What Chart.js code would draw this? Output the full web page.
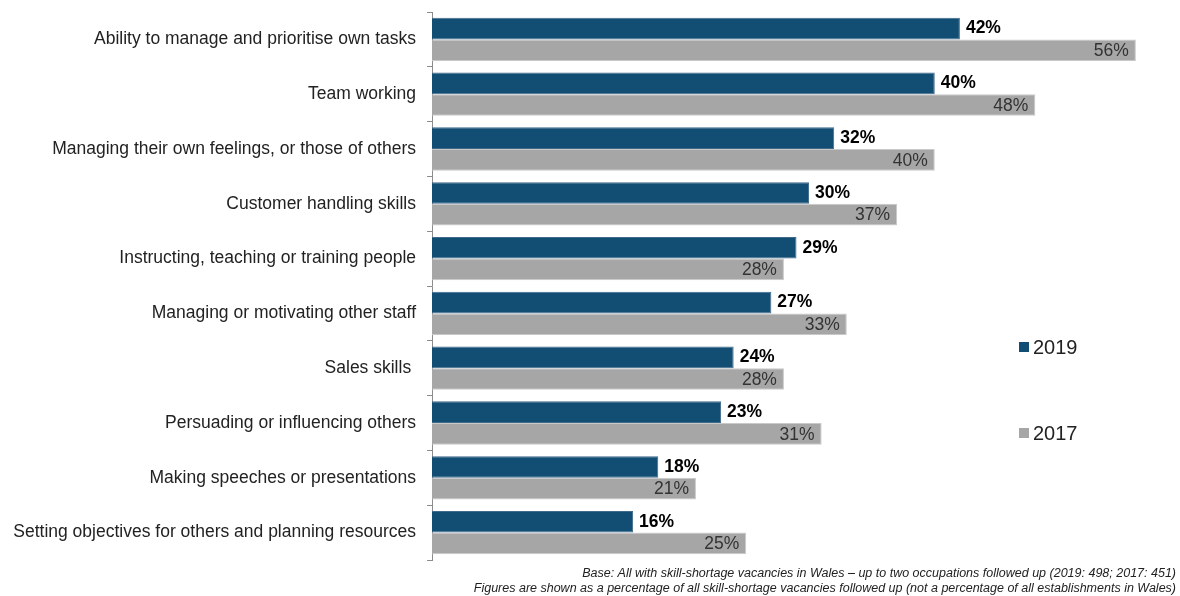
<!DOCTYPE html>
<html>
<head>
<meta charset="utf-8">
<script src="https://cdn.jsdelivr.net/npm/chart.js@4/dist/chart.umd.min.js"></script>
<style>
  html, body { margin: 0; padding: 0; background: #fff; }
  #wrap { width: 1180px; height: 596px; }
</style>
</head>
<body>
<div id="wrap"><canvas id="c" width="1180" height="596"></canvas></div>
<script>
const categories = [
  'Ability to manage and prioritise own tasks',
  'Team working',
  'Managing their own feelings, or those of others',
  'Customer handling skills',
  'Instructing, teaching or training people',
  'Managing or motivating other staff',
  'Sales skills ',
  'Persuading or influencing others',
  'Making speeches or presentations',
  'Setting objectives for others and planning resources'
];
const values2019 = [42, 40, 32, 30, 29, 27, 24, 23, 18, 16];
const values2017 = [56, 48, 40, 37, 28, 33, 28, 31, 21, 25];
const seriesNames = ['2019', '2017'];
const footnotes = [
  'Base: All with skill-shortage vacancies in Wales \u2013 up to two occupations followed up (2019: 498; 2017: 451)',
  'Figures are shown as a percentage of all skill-shortage vacancies followed up (not a percentage of all establishments in Wales)'
];

const BLUE = '#124d74';
const GREY = '#a6a6a6';
const FONT = "'Liberation Sans', Arial, sans-serif";

// Percent labels: bold outside the 2019 bars, regular inside the 2017 bars
const valueLabels = {
  id: 'valueLabels',
  afterDatasetsDraw(chart) {
    const ctx = chart.ctx;
    ctx.save();
    ctx.textBaseline = 'middle';
    chart.data.datasets.forEach((ds, di) => {
      const meta = chart.getDatasetMeta(di);
      meta.data.forEach((bar, i) => {
        const txt = ds.data[i] + '%';
        if (di === 0) {
          ctx.font = 'bold 17.5px ' + FONT;
          ctx.fillStyle = '#000';
          ctx.textAlign = 'left';
          ctx.fillText(txt, bar.x + 6, bar.y);
        } else {
          ctx.font = '17.5px ' + FONT;
          ctx.fillStyle = '#333';
          ctx.textAlign = 'right';
          ctx.fillText(txt, bar.x - 7, bar.y + 1);
        }
      });
    });
    ctx.restore();
  }
};

// Side legend and footnotes
const extras = {
  id: 'extras',
  afterDraw(chart) {
    const ctx = chart.ctx;
    ctx.save();
    const items = [
      { name: seriesNames[0], color: BLUE, y: 347 },
      { name: seriesNames[1], color: GREY, y: 433 }
    ];
    items.forEach(it => {
      ctx.fillStyle = it.color;
      ctx.fillRect(1019, it.y - 5, 10, 10);
      ctx.fillStyle = '#222';
      ctx.font = '20px ' + FONT;
      ctx.textAlign = 'left';
      ctx.textBaseline = 'middle';
      ctx.fillText(it.name, 1033, it.y + 1);
    });
    ctx.font = 'italic 12.5px ' + FONT;
    ctx.fillStyle = '#222';
    ctx.textAlign = 'right';
    ctx.textBaseline = 'middle';
    ctx.fillText(footnotes[0], 1176, 574);
    ctx.fillText(footnotes[1], 1176, 589);
    ctx.restore();
  }
};

new Chart(document.getElementById('c'), {
  type: 'bar',
  data: {
    labels: categories,
    datasets: [
      { label: seriesNames[0], data: values2019, backgroundColor: BLUE, borderColor: '#3f6a89', borderWidth: 1 },
      { label: seriesNames[1], data: values2017, backgroundColor: GREY, borderColor: '#c9c9c9', borderWidth: 1 }
    ]
  },
  options: {
    indexAxis: 'y',
    responsive: false,
    animation: false,
    devicePixelRatio: 1,
    categoryPercentage: 0.79,
    barPercentage: 1,
    layout: { padding: { top: 12, bottom: 36, left: 0, right: 19 } },
    plugins: {
      legend: { display: false },
      tooltip: { enabled: false }
    },
    scales: {
      x: {
        display: false,
        min: 0,
        max: 58
      },
      y: {
        afterFit(scale) {
          scale.width = 432;
          scale.paddingTop = 0;
          scale.paddingBottom = 0;
        },
        grid: {
          display: true,
          drawOnChartArea: false,
          drawTicks: true,
          tickLength: 5,
          color: '#8c8c8c',
          offset: true
        },
        border: { display: true, color: '#8c8c8c', width: 1 },
        ticks: {
          color: '#222',
          padding: 11,
          font: { family: FONT, size: 17.5 }
        }
      }
    }
  },
  plugins: [valueLabels, extras]
});
</script>
</body>
</html>
